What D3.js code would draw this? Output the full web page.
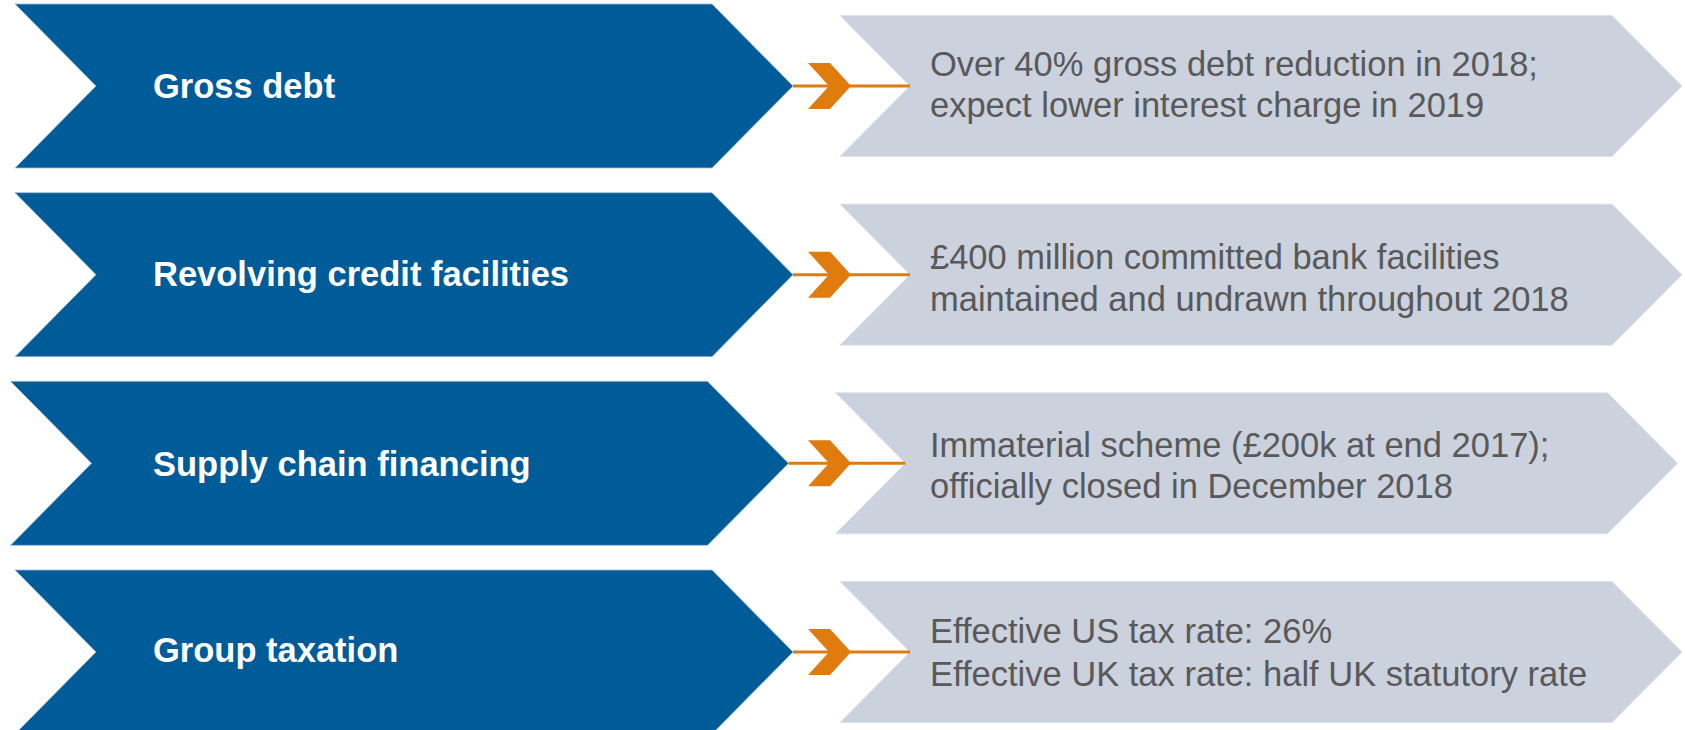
<!DOCTYPE html>
<html>
<head>
<meta charset="utf-8">
<script src="https://cdn.jsdelivr.net/npm/d3@7"></script>
<style>
  html, body { margin: 0; padding: 0; background: #ffffff; overflow: hidden; }
  svg { display: block; }
  text { font-family: "Liberation Sans", Arial, Helvetica, sans-serif; }
</style>
</head>
<body>
<svg id="chart" width="1685" height="730"></svg>
<script>
// ---- data ----
const categories = ["Gross debt", "Revolving credit facilities", "Supply chain financing", "Group taxation"];
const descLine1 = [
  "Over 40% gross debt reduction in 2018;",
  "£400 million committed bank facilities",
  "Immaterial scheme (£200k at end 2017);",
  "Effective US tax rate: 26%"
];
const descLine2 = [
  "expect lower interest charge in 2019",
  "maintained and undrawn throughout 2018",
  "officially closed in December 2018",
  "Effective UK tax rate: half UK statutory rate"
];

// ---- layout (kept separate from data) ----
const W = 1685, H = 730;
const rowShift = [0, 0, -4.5, 0];
const labelDy = [12, 11, 13, 10];
const descDy1 = [-10, -6, -6, -9];
const descDy2 = [31, 36, 35, 34];

const svg = d3.select("#chart");
const y = d3.scalePoint().domain(d3.range(categories.length)).range([86, 652]);
// horizontal scale in px (identity) for the diagram parts
const x = d3.scaleLinear().domain([0, W]).range([0, W]);

const rows = categories.map((c, i) => ({
  i, label: c, l1: descLine1[i], l2: descLine2[i], cy: y(i), dx: rowShift[i]
}));

const g = svg.selectAll("g.row").data(rows).join("g")
  .attr("class", "row")
  .attr("transform", d => `translate(${d.dx},${d.cy})`);

// blue chevron
const bh = 82, bL = 15, bR = 793, bDepth = 81;
g.append("path")
  .attr("d", () => {
    const p = d3.path();
    p.moveTo(x(bL), -bh);
    p.lineTo(x(bR - bDepth), -bh);
    p.lineTo(x(bR), 0);
    p.lineTo(x(bR - bDepth), bh);
    p.lineTo(x(bL), bh);
    p.lineTo(x(bL + bDepth), 0);
    p.closePath();
    return p.toString();
  })
  .attr("fill", "#005C99")
  .attr("stroke", "#9DBBD8")
  .attr("stroke-width", 0.8);

// grey chevron
const gh = 70.5, gL = 840, gR = 1682, gDepth = 70;
g.append("path")
  .attr("d", () => {
    const p = d3.path();
    p.moveTo(x(gL), -gh);
    p.lineTo(x(gR - gDepth), -gh);
    p.lineTo(x(gR), 0);
    p.lineTo(x(gR - gDepth), gh);
    p.lineTo(x(gL), gh);
    p.lineTo(x(gL + gDepth), 0);
    p.closePath();
    return p.toString();
  })
  .attr("fill", "#CBD1DD")
  .attr("stroke", "#DCE0E8")
  .attr("stroke-width", 0.8);

// orange connector line
g.append("line")
  .attr("x1", x(bR)).attr("x2", x(gL + gDepth))
  .attr("y1", 0).attr("y2", 0)
  .attr("stroke", "#E07B0D")
  .attr("stroke-width", 3);

// orange chevron arrow head
g.append("path")
  .attr("transform", d => `translate(${-d.dx},0)`)
  .attr("d", () => {
    const p = d3.path();
    p.moveTo(x(808), -23);
    p.lineTo(x(830), -23);
    p.lineTo(x(851), 0);
    p.lineTo(x(830), 23);
    p.lineTo(x(808), 23);
    p.lineTo(x(829), 0);
    p.closePath();
    return p.toString();
  })
  .attr("fill", "#E07B0D");

// category labels
g.append("text")
  .attr("transform", d => `translate(${-d.dx},0)`)
  .attr("x", x(153))
  .attr("y", d => labelDy[d.i])
  .attr("fill", "#ffffff")
  .attr("font-weight", "bold")
  .attr("font-size", "34.5px")
  .text(d => d.label);

// descriptions
g.append("text")
  .attr("transform", d => `translate(${-d.dx},0)`)
  .attr("x", x(930))
  .attr("y", d => descDy1[d.i])
  .attr("fill", "#595959")
  .attr("font-size", "34.5px")
  .text(d => d.l1);
g.append("text")
  .attr("transform", d => `translate(${-d.dx},0)`)
  .attr("x", x(930))
  .attr("y", d => descDy2[d.i])
  .attr("fill", "#595959")
  .attr("font-size", "34.5px")
  .text(d => d.l2);
</script>
</body>
</html>
